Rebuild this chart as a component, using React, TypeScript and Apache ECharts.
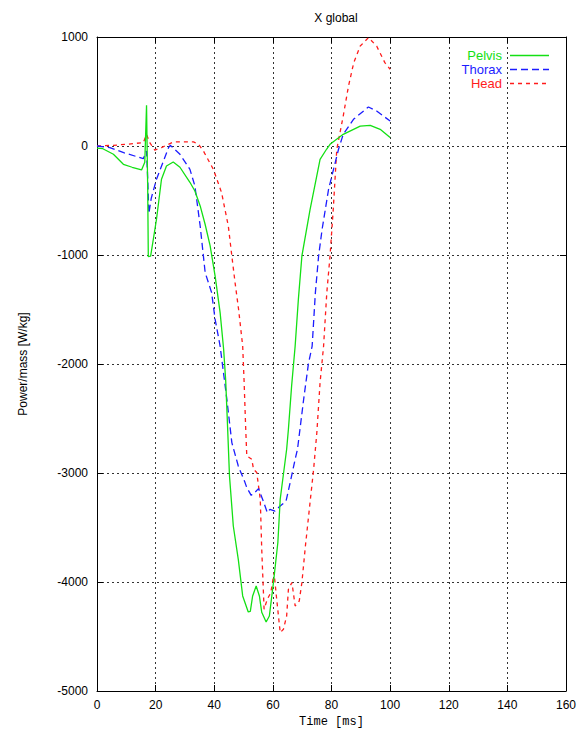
import React, { useEffect, useRef } from "react";
import * as echarts from "echarts";

const seriesNames = ["Pelvis", "Thorax", "Head"];
const xTicks = [0, 20, 40, 60, 80, 100, 120, 140, 160];
const yTicks = [-5000, -4000, -3000, -2000, -1000, 0, 1000];

const pelvisT = [0, 2, 5.6, 9, 12, 15.2, 16.3, 16.9, 17.3, 17.5, 18.3, 20.3, 22, 23.7, 26, 28.3, 31.7, 33.4, 35.2, 36.9, 38.6, 40.3, 42, 43.2, 43.9, 44.4, 45.2, 46.5, 48.2, 49.7, 51.6, 52.3, 53.1, 54.3, 55.4, 56.2, 57.7, 58.8, 60.2, 61.7, 62.5, 64.7, 65.3, 66.4, 67.6, 68.7, 69.9, 72.7, 76.1, 78.3, 79.5, 84, 89.8, 93.2, 96.6, 100];
const pelvisV = [-20, -25, -76, -168, -195, -220, -150, 373, -400, -1015, -1010, -672, -305, -183, -147, -195, -333, -413, -550, -720, -917, -1193, -1528, -1865, -2150, -2477, -3027, -3486, -3792, -4128, -4275, -4270, -4128, -4037, -4128, -4278, -4367, -4312, -4005, -3638, -3241, -2782, -2599, -2200, -1835, -1406, -1009, -581, -122, -30, 16, 107, 183, 190, 153, 77];

const thoraxT = [0, 4.4, 9.1, 15.8, 16.9, 17.3, 17.7, 18.5, 20.3, 22.5, 24.4, 25, 28.3, 31.7, 33.4, 35.2, 36.9, 39.1, 40.3, 42, 44.3, 46, 48.2, 50.5, 51.1, 52.6, 53.8, 55.1, 56.9, 58.1, 59, 60.7, 62.5, 64.5, 65.9, 67.6, 68.4, 70.5, 72.1, 73.4, 74.5, 75.6, 76.8, 79, 82.4, 84, 87.5, 92.6, 95.4, 100];
const thoraxV = [0, -15, -61, -116, -46, -305, -620, -480, -305, -150, -15, 6, -76, -214, -367, -734, -1161, -1345, -1590, -1835, -2324, -2721, -2936, -3088, -3134, -3205, -3180, -3143, -3271, -3363, -3333, -3349, -3303, -3257, -3088, -2874, -2782, -2324, -2003, -1835, -1345, -1009, -764, -397, -30, 107, 245, 358, 321, 229];

const headT = [0, 5.6, 10.1, 15.8, 16.9, 18, 19.7, 22, 26, 32.9, 34.5, 36.3, 39.7, 42.5, 44.8, 46, 47.1, 48.3, 49.7, 50.2, 50.7, 51.1, 52.8, 53.4, 54.5, 55.7, 56.2, 57, 58.1, 59.3, 60.4, 61.3, 62.5, 63.6, 64.7, 65.3, 66.5, 67.6, 69, 69.9, 71.1, 72.8, 73.9, 75, 76.1, 77.3, 78.4, 79.5, 80.6, 81.8, 84, 85.8, 87.6, 89.8, 92.6, 95.4, 98.2, 100];
const headV = [0, 6, 16, 31, 107, 31, -37, -15, 37, 37, 20, -46, -214, -428, -734, -1009, -1253, -1498, -1835, -2171, -2569, -2844, -2874, -2966, -2996, -3241, -3700, -4250, -4158, -4097, -3914, -4158, -4464, -4434, -4312, -4067, -4005, -4220, -4174, -4005, -3670, -3241, -2966, -2629, -2171, -1835, -1345, -1009, -581, -30, 275, 550, 765, 917, 994, 917, 765, 704];

const colors = ["#14e014", "#1c1cff", "#ff1c1c"];
const dashes: any[] = ["solid", [7, 4], [4, 4]];

const pairs = (t: number[], v: number[]) => t.map((x, i) => [x, v[i]]);

export default function App() {
  const ref = useRef<HTMLDivElement>(null);
  useEffect(() => {
    const chart = echarts.init(ref.current!, null, { renderer: "svg" });
    const gridLine = { show: true, lineStyle: { color: "#333", width: 1, type: [2, 3] as any } };
    const axisLine = { show: true, onZero: false, lineStyle: { color: "#000", width: 1 } };
    const tick = { show: true, inside: true, length: 6, lineStyle: { color: "#000" } };
    const label = { color: "#000", fontSize: 12, fontFamily: "Liberation Sans" };
    const datas = [pairs(pelvisT, pelvisV), pairs(thoraxT, thoraxV), pairs(headT, headV)];
    const legendY = [55, 69, 83];
    const legendGraphics: any[] = [];
    seriesNames.forEach((n, i) => {
      legendGraphics.push({
        type: "text",
        x: 502,
        y: legendY[i],
        style: {
          text: n,
          fill: colors[i],
          font: "13px 'Liberation Sans'",
          textAlign: "right",
          textVerticalAlign: "middle",
        },
        z: 10,
      });
      legendGraphics.push({
        type: "line",
        shape: { x1: 510, y1: legendY[i] + 0.5, x2: 549, y2: legendY[i] + 0.5 },
        style: {
          stroke: colors[i],
          lineWidth: 1.3,
          lineDash: dashes[i] === "solid" ? null : dashes[i],
        },
        z: 10,
      });
    });
    chart.setOption({
      animation: false,
      backgroundColor: "#fff",
      title: {
        text: "X global",
        left: 331,
        textAlign: "center",
        top: 7,
        textStyle: { fontSize: 12, fontWeight: "normal", color: "#000", fontFamily: "Liberation Sans" },
      },
      grid: { left: 97, right: 20, top: 37, bottom: 49 },
      graphic: legendGraphics,
      xAxis: [
        {
          type: "value",
          min: xTicks[0],
          max: xTicks[xTicks.length - 1],
          interval: 20,
          position: "bottom",
          name: "Time [ms]",
          nameLocation: "middle",
          nameGap: 25,
          nameTextStyle: { color: "#000", fontSize: 12, fontFamily: "Liberation Mono" },
          axisLine,
          axisTick: tick,
          axisLabel: { ...label, margin: 8, formatter: (v: number) => String(v) },
          splitLine: gridLine,
        },
        {
          type: "value",
          min: xTicks[0],
          max: xTicks[xTicks.length - 1],
          interval: 20,
          position: "top",
          axisLine,
          axisTick: tick,
          axisLabel: { show: false },
          splitLine: { show: false },
        },
      ],
      yAxis: [
        {
          type: "value",
          min: yTicks[0],
          max: yTicks[yTicks.length - 1],
          interval: 1000,
          position: "left",
          name: "Power/mass [W/kg]",
          nameLocation: "middle",
          nameGap: 68,
          nameTextStyle: { color: "#000", fontSize: 12, fontFamily: "Liberation Sans" },
          axisLine,
          axisTick: tick,
          axisLabel: { ...label, margin: 9, formatter: (v: number) => String(v) },
          splitLine: gridLine,
        },
        {
          type: "value",
          min: yTicks[0],
          max: yTicks[yTicks.length - 1],
          interval: 1000,
          position: "right",
          axisLine,
          axisTick: tick,
          axisLabel: { show: false },
          splitLine: { show: false },
        },
      ],
      series: seriesNames.map((n, i) => ({
        name: n,
        type: "line",
        xAxisIndex: 0,
        yAxisIndex: 0,
        data: datas[i],
        symbol: "none",
        showSymbol: false,
        itemStyle: { color: colors[i] },
        lineStyle: { color: colors[i], width: 1.3, type: dashes[i] },
        z: 3 - i,
      })),
    });
    return () => chart.dispose();
  }, []);
  return <div ref={ref} style={{ position: "fixed", left: 0, top: 0, width: 586, height: 740 }} />;
}
